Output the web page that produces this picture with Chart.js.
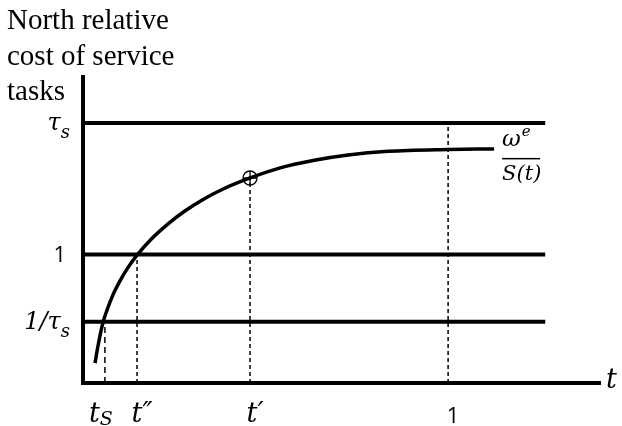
<!DOCTYPE html>
<html>
<head>
<meta charset="utf-8">
<script src="https://cdn.jsdelivr.net/npm/chart.js"></script>
<style>
  html, body { margin: 0; padding: 0; background: #fff; }
  #wrap { width: 622px; height: 426px; }
</style>
</head>
<body>
<div id="wrap"><canvas id="costChart"></canvas></div>
<script>
// curve omega^e / S(t), t measured so that the "1" tick is at 1
const curveT    = [0.033, 0.041, 0.055, 0.066, 0.082, 0.101, 0.123, 0.148, 0.186, 0.233, 0.279, 0.329, 0.384, 0.4575, 0.540, 0.630, 0.726, 0.836, 1.0, 1.126];
const curveCost = [6.5, 12.1, 19.9, 23.9, 28.8, 33.3, 37.7, 41.8, 46.9, 52.0, 56.2, 60.0, 63.4, 67.0, 70.3, 72.7, 74.5, 75.7, 76.3, 76.5];

// horizontal levels: tau_s, 1, 1/tau_s
const levelValues = [85, 42, 20];
const levelLabels = [['τ', 's'], ['1', ''], ['1/τ', 's']];
const levelEnd = 1.266;

// marked t values, the height their dashed line reaches, and labels
const markT = [0.06, 0.148, 0.4575, 1];
const markTop = [20, 42, 67, 85];
const markLabels = [['t', 'S'], ['t″', ''], ['t′', ''], ['1', '']];

// the circled point on the curve
const pointT = [0.4575];
const pointCost = [67];

const xMax = 1.416;
const yMax = 100;

const titleLines = ['North relative', 'cost of service', 'tasks'];

function line(points, width, dash) {
    return {
        data: points,
        borderColor: '#000',
        borderWidth: width,
        borderDash: dash || [],
        pointRadius: 0,
        fill: false
    };
}

const datasets = [];

levelValues.forEach(function(v) {
    datasets.push(line([{x: 0, y: v}, {x: levelEnd, y: v}], 4));
});

markT.forEach(function(t, i) {
    datasets.push(line([{x: t, y: 0}, {x: t, y: markTop[i]}], 1.5, i === 0 ? [6, 4] : [4, 3]));
});

const curve = line(curveT.map(function(t, i) { return {x: t, y: curveCost[i]}; }), 3.5);
curve.cubicInterpolationMode = 'monotone';
datasets.push(curve);

['circle', 'cross'].forEach(function(style) {
    datasets.push({
        data: pointT.map(function(t, i) { return {x: t, y: pointCost[i]}; }),
        showLine: false,
        pointStyle: style,
        pointRadius: 7,
        pointBorderWidth: 1.3,
        pointBorderColor: '#000',
        pointBackgroundColor: 'rgba(0,0,0,0)'
    });
});

// draw base text with a subscript, aligned right or centred on x
function drawSub(ctx, base, sub, x, y, align, baseFont, subFont, subDy) {
    ctx.font = baseFont;
    const wb = ctx.measureText(base).width;
    ctx.font = subFont;
    const ws = sub ? ctx.measureText(sub).width : 0;
    const total = wb + ws;
    const sx = align === 'right' ? x - total : x - total / 2;
    ctx.textAlign = 'left';
    ctx.textBaseline = 'alphabetic';
    ctx.font = baseFont;
    ctx.fillText(base, sx, y);
    if (sub) {
        ctx.font = subFont;
        ctx.fillText(sub, sx + wb, y + subDy);
    }
}

const labelPlugin = {
    id: 'diagramLabels',
    afterDraw: function(chart) {
        const ctx = chart.ctx;
        const xs = chart.scales.x;
        const ys = chart.scales.y;
        const area = chart.chartArea;
        ctx.save();
        ctx.fillStyle = '#000';

        // title
        ctx.font = '29px "Liberation Serif"';
        ctx.textAlign = 'left';
        ctx.textBaseline = 'alphabetic';
        titleLines.forEach(function(txt, i) {
            ctx.fillText(txt, 7, 29 + i * 35.5);
        });

        // level labels
        levelValues.forEach(function(v, i) {
            const py = ys.getPixelForValue(v);
            const lab = levelLabels[i];
            if (lab[1]) {
                drawSub(ctx, lab[0], lab[1], area.left - 13, py + 7, 'right',
                    'italic 24px "DejaVu Serif"', 'italic 18px "DejaVu Serif"', 8);
            } else {
                drawSub(ctx, lab[0], '', area.left - 17, py + 8, 'right',
                    '22px "Open Sans"', '22px "Open Sans"', 0);
            }
        });

        // marks along t
        markT.forEach(function(t, i) {
            const px = xs.getPixelForValue(t);
            const lab = markLabels[i];
            if (lab[0] === '1') {
                drawSub(ctx, '1', '', px + 5, area.bottom + 40, 'center',
                    '22px "Open Sans"', '22px "Open Sans"', 0);
            } else {
                const shift = lab[0].length > 1 ? 5 : 0;
                drawSub(ctx, lab[0], lab[1], px + shift - (lab[1] ? 4 : 0), area.bottom + 39, 'center',
                    'italic 27px "DejaVu Serif"', 'italic 19px "DejaVu Serif"', 3);
            }
        });

        // axis name
        ctx.font = 'italic 27px "DejaVu Serif"';
        ctx.textAlign = 'left';
        ctx.fillText('t', area.right + 6, area.bottom + 5);

        // curve label omega^e / S(t)
        const lx = xs.getPixelForValue(curveT[curveT.length - 1]) + 8;
        const ly = ys.getPixelForValue(curveCost[curveCost.length - 1]);
        ctx.font = 'italic 23px "DejaVu Serif"';
        ctx.fillText('ω', lx, ly - 3);
        const ww = ctx.measureText('ω').width;
        ctx.font = 'italic 15px "DejaVu Serif"';
        ctx.fillText('e', lx + 1 + ww, ly - 13);
        ctx.fillRect(lx, ly + 9, 38, 1.5);
        ctx.font = 'italic 21px "DejaVu Serif"';
        ctx.fillText('S(t)', lx, ly + 31);

        ctx.restore();
    }
};

function noSize(scale) {
    if (scale.isHorizontal()) {
        scale.height = 0;
    } else {
        scale.width = 0;
    }
}

new Chart(document.getElementById('costChart').getContext('2d'), {
    type: 'line',
    data: { datasets: datasets },
    options: {
        responsive: true,
        maintainAspectRatio: false,
        animation: false,
        layout: { padding: { left: 83, right: 22, top: 77, bottom: 43 } },
        plugins: {
            legend: { display: false },
            tooltip: { enabled: false }
        },
        scales: {
            x: {
                type: 'linear',
                min: 0,
                max: xMax,
                grid: { display: false },
                ticks: { display: false },
                border: { display: true, color: '#000', width: 4 },
                afterFit: noSize
            },
            y: {
                type: 'linear',
                min: 0,
                max: yMax,
                grid: { display: false },
                ticks: { display: false },
                border: { display: true, color: '#000', width: 4 },
                afterFit: noSize
            }
        }
    },
    plugins: [labelPlugin]
});
</script>
</body>
</html>
